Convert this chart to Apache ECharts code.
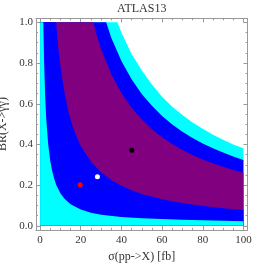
<!DOCTYPE html>
<html>
<head>
<meta charset="utf-8">
<script src="https://cdn.jsdelivr.net/npm/echarts@6/dist/echarts.min.js"></script>
<style>
html,body{margin:0;padding:0;background:#fff;}
#c{width:266px;height:265px;}
</style>
</head>
<body>
<div id="c"></div>
<script>
// Boundary curves: [sigma (fb), BR]
var cyanUpper = [[0,1],[38,1],[40,0.95],[45,0.845],[50,0.765],[55,0.695],[60,0.635],[65,0.585],[70,0.545],[75,0.508],[80,0.477],[85,0.448],[90,0.423],[95,0.40],[100,0.381]];
var blueUpper = [[0,1],[32.5,1],[35,0.925],[40,0.81],[45,0.72],[50,0.648],[55,0.59],[60,0.54],[65,0.498],[70,0.463],[75,0.432],[80,0.405],[85,0.381],[90,0.36],[95,0.341],[100,0.323]];
var purpleUpper = [[0,1],[26.2,1],[28,0.932],[30,0.87],[35,0.746],[40,0.653],[45,0.58],[50,0.522],[55,0.475],[60,0.435],[65,0.402],[70,0.373],[75,0.348],[80,0.326],[85,0.307],[90,0.29],[95,0.275],[100,0.261]];
var purpleLower = [[0,1],[7.9,1],[9,0.87],[10,0.785],[12,0.655],[14,0.56],[16,0.49],[18,0.436],[20,0.392],[25,0.315],[30,0.263],[35,0.225],[40,0.197],[45,0.175],[50,0.157],[60,0.131],[70,0.112],[80,0.098],[90,0.087],[100,0.078]];
var blueLower = [[0,1],[1.6,1],[2,0.8],[2.5,0.64],[3,0.53],[4,0.4],[5,0.32],[6,0.268],[7,0.23],[8,0.2],[10,0.16],[12,0.133],[15,0.106],[20,0.08],[25,0.064],[30,0.055],[40,0.044],[50,0.037],[60,0.033],[70,0.03],[80,0.027],[90,0.025],[100,0.023]];
var blackPoint = [[45.1,0.371]];
var whitePoint = [[28.2,0.241]];
var redPoint = [[19.7,0.202]];
var xMajorTicks = [0,20,40,60,80,100];
var xMinorTicks = [5,10,15,25,30,35,45,50,55,65,70,75,85,90,95];
var yMajorTicks = [0,0.2,0.4,0.6,0.8,1.0];
var yMinorTicks = [0.05,0.1,0.15,0.25,0.3,0.35,0.45,0.5,0.55,0.65,0.7,0.75,0.85,0.9,0.95];

var FONT = 'Liberation Serif';
var TXT = '#333';
var FRAME = '#999';

function xAx(pos, ticks, len, showLine, showLabel, extra) {
  var a = {
    type:'value', position:pos, min:-2, max:102,
    splitLine:{show:false},
    axisLine:{show:showLine, onZero:false, lineStyle:{color:FRAME, width:1}},
    axisTick:{show:true, inside:true, length:len, customValues:ticks, lineStyle:{color:FRAME}},
    axisLabel:{show:showLabel, customValues:ticks, fontFamily:FONT, fontSize:11, color:TXT, margin:5}
  };
  return Object.assign(a, extra||{});
}
function yAx(pos, ticks, len, showLine, showLabel, extra) {
  var a = {
    type:'value', position:pos, min:-0.02, max:1.02,
    splitLine:{show:false},
    axisLine:{show:showLine, onZero:false, lineStyle:{color:FRAME, width:1}},
    axisTick:{show:true, inside:true, length:len, customValues:ticks, lineStyle:{color:FRAME}},
    axisLabel:{show:showLabel, customValues:ticks, fontFamily:FONT, fontSize:11, color:TXT, margin:3,
      formatter:function(v){return v.toFixed(1);}}
  };
  return Object.assign(a, extra||{});
}
function band(data, color) {
  return {type:'line', data:data, xAxisIndex:0, yAxisIndex:0, symbol:'none', silent:true,
    lineStyle:{width:0, color:color}, areaStyle:{color:color, opacity:1, origin:'auto'}, z:1};
}
function pt(data, color) {
  return {type:'scatter', data:data, xAxisIndex:0, yAxisIndex:0, symbolSize:5, silent:true,
    itemStyle:{color:color, opacity:1}, z:5};
}

var chart = echarts.init(document.getElementById('c'), null, {renderer:'canvas'});
chart.setOption({
  animation:false,
  backgroundColor:'#fff',
  grid:{left:36, right:18.5, top:18.3, bottom:35.1, containLabel:false, outerBoundsMode:'none'},
  graphic:[{type:'text', x:141.75, y:8.5, style:{text:'ATLAS13', font:'12px "Liberation Serif"', fill:TXT, textAlign:'center', textVerticalAlign:'middle'}}],
  xAxis:[
    xAx('bottom', xMajorTicks, 4, true, true, {name:'σ(pp->X) [fb]', nameLocation:'middle', nameGap:19,
      nameTextStyle:{fontFamily:FONT, fontSize:12, color:TXT}}),
    xAx('bottom', xMinorTicks, 2, false, false),
    xAx('top', xMajorTicks, 4, true, false),
    xAx('top', xMinorTicks, 2, false, false)
  ],
  yAxis:[
    yAx('left', yMajorTicks, 4, true, true, {name:'BR(X->γγ)', nameLocation:'middle', nameGap:21,
      nameTextStyle:{fontFamily:FONT, fontSize:12, color:TXT}}),
    yAx('left', yMinorTicks, 2, false, false),
    yAx('right', yMajorTicks, 4, true, false),
    yAx('right', yMinorTicks, 2, false, false)
  ],
  series:[
    band(cyanUpper, '#00ffff'),
    band(blueUpper, '#0000ff'),
    band(purpleUpper, '#800080'),
    band(purpleLower, '#0000ff'),
    band(blueLower, '#00ffff'),
    pt(blackPoint, '#000000'),
    pt(whitePoint, '#ffffff'),
    pt(redPoint, '#ff0000')
  ]
});
</script>
</body>
</html>
